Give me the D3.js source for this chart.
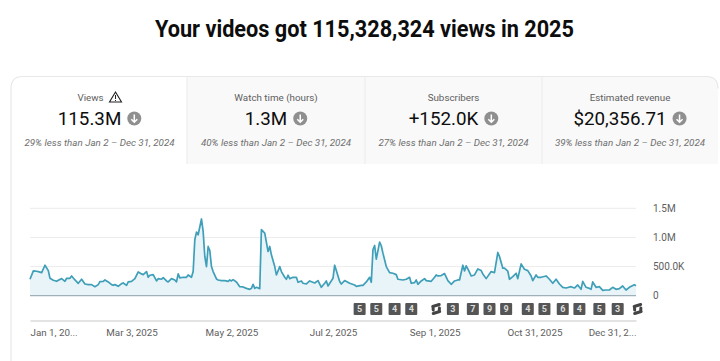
<!DOCTYPE html>
<html>
<head>
<meta charset="utf-8">
<script src="https://cdn.jsdelivr.net/npm/d3@7"></script>
<style>
  html, body { margin: 0; padding: 0; background: #fff; overflow: hidden; }
  text { font-family: Roboto, sans-serif; }
</style>
</head>
<body>
<div class="chart"></div>
<script>
// day of the year (0 = Jan 1) and views for that day
var days = [0,2,4,5,7,9,11,12,14,16,17,19,21,22,24,25,27,29,31,33,35,37,39,41,42,44,45,47,49,50,51,53,55,56,58,59,61,63,65,67,68,70,71,72,74,76,77,79,80,82,83,85,87,
  88,89,90,92,94,95,97,98,99,100,101,103,104,105,106,107,108,109,110,112,113,115,117,119,120,121,122,124,126,128,130,132,133,134,135,136,138,139,141,143,144,145,147,148,150,151,153,154,155,156,158,160,161,163,164,166,168,171,173,175,
  177,178,179,182,183,184,186,187,189,192,195,196,199,200,202,204,205,206,207,208,210,211,212,214,216,218,220,221,224,226,228,229,231,232,233,235,237,238,241,243,244,245,247,249,251,253,255,257,258,260,261,262,263,265,267,
  269,271,272,274,277,279,281,282,284,285,287,288,290,292,293,295,297,299,301,302,304,305,307,310,312,314,316,318,320,322,325,327,329,331,332,334,336,337,338,340,342,344,346,348,350,352,354,356,358,360,363,364];
var views = [282,425,420,414,397,523,431,299,265,247,265,293,247,299,299,339,270,213,282,201,190,190,155,190,242,247,270,236,190,178,190,161,207,219,178,236,247,293,408,374,362,414,316,351,362,253,293,282,311,253,236,293,270,
  236,374,305,316,316,356,316,414,960,1092,1046,1317,1104,673,500,845,776,500,414,288,270,259,259,247,270,253,276,236,155,150,126,109,126,196,126,144,121,1133,1075,759,845,701,500,356,500,414,316,282,351,293,316,316,230,253,213,201,253,219,259,144,
  213,253,167,299,523,431,242,201,259,213,184,161,178,178,236,316,230,788,862,627,920,857,730,500,397,385,362,282,270,282,316,213,224,270,196,253,293,259,247,316,356,339,345,380,259,196,253,270,270,523,425,512,460,339,356,
  460,431,374,293,414,397,742,673,472,472,420,282,328,385,293,546,454,431,339,259,356,316,316,339,282,213,282,201,144,132,155,132,184,109,247,144,126,109,236,144,155,92,98,98,144,109,121,167,98,144,190,172];

var yTicks = [0, 500, 1000, 1500];
var yTickLabels = ['0', '500.0K', '1.0M', '1.5M'];
var xTicks = [0, 61, 121, 182, 243, 303, 364];
var xTickLabels = ['Jan 1, 20...', 'Mar 3, 2025', 'May 2, 2025', 'Jul 2, 2025', 'Sep 1, 2025', 'Oct 31, 2025', 'Dec 31, 2...'];

// upload markers under the line
var markerDays = [198,208,219,229,244,254,266,276,286,299,309,320,330,342,353,365];
var markerLabels = ['5','5','4','4','link','3','7','9','9','4','5','6','4','5','3','link'];

var tabNames = ['Views', 'Watch time (hours)', 'Subscribers', 'Estimated revenue'];
var tabValues = ['115.3M', '1.3M', '+152.0K', '$20,356.71'];
var tabNotes = ['29% less than Jan 2 – Dec 31, 2024', '40% less than Jan 2 – Dec 31, 2024', '27% less than Jan 2 – Dec 31, 2024', '39% less than Jan 2 – Dec 31, 2024'];
var tabEdges = [11, 187, 365, 542, 718];

var W = 720, H = 361;

var svg = d3.select('.chart')
  .append('svg')
    .attr('width', W)
    .attr('height', H)
    .style('display', 'block');

svg.append('text')
  .attr('x', 364.5)
  .attr('y', 37)
  .attr('text-anchor', 'middle')
  .attr('font-size', 24)
  .attr('font-weight', 700)
  .attr('fill', '#0d0d0d')
  .attr('textLength', 419)
  .attr('lengthAdjust', 'spacingAndGlyphs')
  .text('Your videos got 115,328,324 views in 2025');

// card outline and tabs
var cardTop = 76.5, tabBottom = 164;

var r = 12;
svg.append('path')
  .attr('d', `M${tabEdges[1]},${tabBottom} H${tabEdges[4]} V${cardTop + r} Q${tabEdges[4]},${cardTop} ${tabEdges[4] - r},${cardTop} H${tabEdges[1]} Z`)
  .attr('fill', '#f9f9f9');

svg.append('path')
  .attr('d', `M${tabEdges[0]},${H} V${cardTop + r} Q${tabEdges[0]},${cardTop} ${tabEdges[0] + r},${cardTop} H${tabEdges[4] - r} Q${tabEdges[4]},${cardTop} ${tabEdges[4]},${cardTop + r}`)
  .attr('fill', 'none')
  .attr('stroke', '#e8e8e8')
  .attr('stroke-width', 1.2);

svg.selectAll('.tab-sep')
  .data(tabEdges.slice(1, 4))
  .enter()
  .append('line')
    .attr('class', 'tab-sep')
    .attr('x1', d => d)
    .attr('x2', d => d)
    .attr('y1', cardTop)
    .attr('y2', tabBottom)
    .attr('stroke', '#ebebeb');

var tabs = svg.selectAll('.tab')
  .data(tabNames)
  .enter()
  .append('g')
    .attr('class', 'tab')
    .attr('transform', (d, i) => `translate(${(tabEdges[i] + tabEdges[i + 1]) / 2 + (i == 0 ? 0.5 : 0)}, 0)`);

tabs.append('text')
  .attr('class', 'tab-name')
  .attr('x', (d, i) => i == 0 ? -9 : 0)
  .attr('y', 100.5)
  .attr('text-anchor', 'middle')
  .attr('font-size', 9.8)
  .attr('fill', '#606060')
  .text(d => d);

tabs.append('text')
  .attr('class', 'tab-note')
  .attr('y', 145.5)
  .attr('text-anchor', 'middle')
  .attr('font-size', 9.8)
  .attr('font-style', 'italic')
  .attr('fill', '#6f6f6f')
  .text((d, i) => tabNotes[i]);

// value and the round down arrow sit together, centred in the tab
tabs.each(function(d, i) {
  var g = d3.select(this);
  var label = g.append('text')
    .attr('y', 125)
    .attr('font-size', 18.8)
    .attr('fill', '#0d0d0d')
    .text(tabValues[i]);
  var w = label.node().getComputedTextLength();
  var total = w + 6 + 14;
  label.attr('x', -total / 2);
  var cx = -total / 2 + w + 6 + 7;
  g.append('circle')
    .attr('cx', cx)
    .attr('cy', 118.5)
    .attr('r', 7)
    .attr('fill', '#8f8f8f');
  g.append('path')
    .attr('d', `M${cx},114.5 V122 M${cx - 3},119.3 L${cx},122.3 L${cx + 3},119.3`)
    .attr('fill', 'none')
    .attr('stroke', '#fff')
    .attr('stroke-width', 1.5);
});

// warning sign next to Views
svg.append('path')
  .attr('d', 'M115.5,92 L121.5,102 H109.5 Z')
  .attr('fill', 'none')
  .attr('stroke', '#222')
  .attr('stroke-width', 1.1);
svg.append('path')
  .attr('d', 'M115.5,95 V99 M115.5,100 V101')
  .attr('stroke', '#222')
  .attr('stroke-width', 1);

// chart
var xScale = d3.scaleLinear()
  .domain([0, 364])
  .range([30, 636]);

var yScale = d3.scaleLinear()
  .domain([0, 1500])
  .range([295.7, 208.3]);

svg.append('g')
  .selectAll('line')
  .data(yTicks.slice(1))
  .enter()
  .append('line')
    .attr('x1', 30)
    .attr('x2', 636)
    .attr('y1', d => yScale(d))
    .attr('y2', d => yScale(d))
    .attr('stroke', '#ececec');

var area = d3.area()
  .x((d, i) => xScale(days[i]))
  .y0(yScale(0))
  .y1(d => yScale(d));

var line = d3.line()
  .x((d, i) => xScale(days[i]))
  .y(d => yScale(d));

svg.append('path')
  .datum(views)
  .attr('d', area)
  .attr('fill', '#e9f4f9');

svg.append('line')
  .attr('x1', 30)
  .attr('x2', 636)
  .attr('y1', yScale(0))
  .attr('y2', yScale(0))
  .attr('stroke', '#9fb0b8')
  .attr('stroke-width', 1.2);

svg.append('path')
  .datum(views)
  .attr('d', line)
  .attr('fill', 'none')
  .attr('stroke', '#3f9fb8')
  .attr('stroke-width', 1.7)
  .attr('stroke-linejoin', 'round');

var yAxis = svg.append('g')
  .attr('transform', 'translate(636, 0)')
  .call(d3.axisRight(yScale)
    .tickValues(yTicks)
    .tickFormat((d, i) => yTickLabels[i])
    .tickSize(0)
    .tickPadding(17));
yAxis.select('.domain').remove();
yAxis.selectAll('text')
  .attr('font-family', 'Roboto, sans-serif')
  .attr('font-size', 10)
  .attr('fill', '#606060');

var xAxis = svg.append('g')
  .attr('transform', 'translate(0, 320.5)')
  .call(d3.axisBottom(xScale)
    .tickValues(xTicks)
    .tickFormat((d, i) => xTickLabels[i])
    .tickSize(0)
    .tickPadding(9));
xAxis.select('.domain')
  .attr('stroke', '#c8c8c8')
  .attr('stroke-width', 1.2);
xAxis.selectAll('text')
  .attr('font-family', 'Roboto, sans-serif')
  .attr('font-size', 9.8)
  .attr('fill', '#606060')
  .attr('text-anchor', (d, i) => i == 0 ? 'start' : i == xTicks.length - 1 ? 'end' : 'middle');

// markers
var markers = svg.selectAll('.marker')
  .data(markerLabels)
  .enter()
  .append('g')
    .attr('class', 'marker')
    .attr('transform', (d, i) => `translate(${xScale(markerDays[i])}, 309)`);

markers.filter(d => d != 'link')
  .append('rect')
    .attr('x', -6)
    .attr('y', -6)
    .attr('width', 12)
    .attr('height', 12)
    .attr('rx', 1)
    .attr('fill', '#555');

markers.filter(d => d != 'link')
  .append('text')
    .attr('y', 3.2)
    .attr('text-anchor', 'middle')
    .attr('font-size', 9)
    .attr('font-weight', 700)
    .attr('fill', '#ddd')
    .text(d => d);

// chain icon
markers.filter(d => d == 'link')
  .append('path')
    .attr('d', 'M-3.5,-2.5 L3,-4.5 M-3,4.5 L3.5,2.5 M-3.2,-2.5 L-3,1 M3.2,-1 L3,2.5')
    .attr('fill', 'none')
    .attr('stroke', '#444')
    .attr('stroke-width', 3)
    .attr('stroke-linecap', 'round');
</script>
</body>
</html>
